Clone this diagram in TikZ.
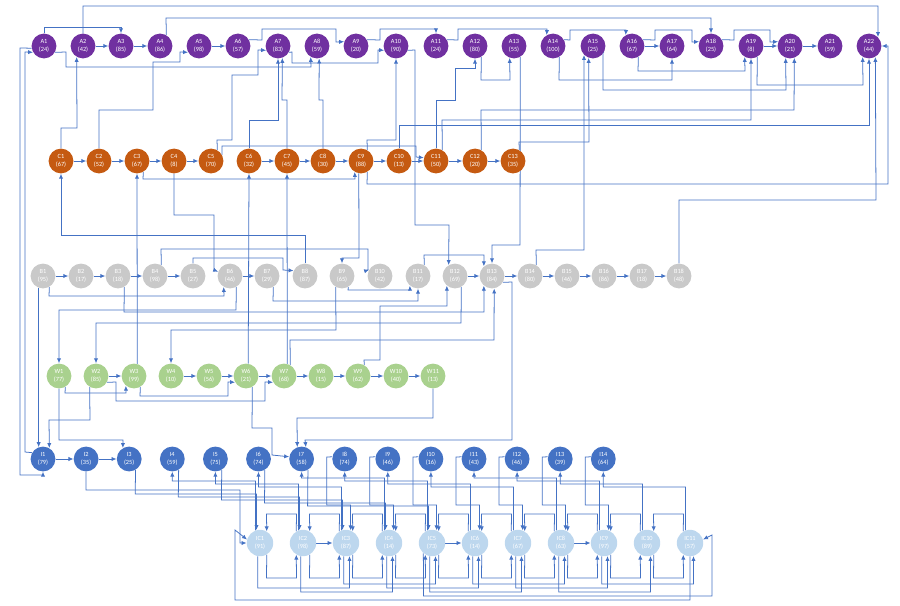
\documentclass[tikz,border=0pt]{standalone}
\usepackage{fontspec}
\setmainfont{Carlito}
\usetikzlibrary{arrows.meta,backgrounds}
\definecolor{apurple}{HTML}{7030A0}
\definecolor{corange}{HTML}{C55A11}
\definecolor{bgray}{HTML}{C9C9C9}
\definecolor{wgreen}{HTML}{A9D18E}
\definecolor{iblue}{HTML}{4472C4}
\definecolor{iclight}{HTML}{BDD7EE}
\definecolor{linkblue}{HTML}{4472C4}
\begin{document}
\begin{tikzpicture}[x=0.025cm,y=-0.025cm,
    task/.style={circle,inner sep=0pt,minimum size=0.62cm,text=white,
      font=\fontsize{4.5}{5.4}\selectfont,align=center},
    anode/.style={task,fill=apurple},
    cnode/.style={task,fill=corange},
    bnode/.style={task,fill=bgray},
    wnode/.style={task,fill=wgreen},
    inode/.style={task,fill=iblue},
    icnode/.style={task,fill=iclight,minimum size=0.66cm},
    link/.style={draw=linkblue,line width=0.55pt,-{Latex[length=3.5pt,width=3pt]}}]
\useasboundingbox (0,0) rectangle (900,605);

% rows of tasks
\foreach \n/\x/\v in {1/44/24,2/83/42,3/121/85,4/160/86,5/199/98,6/238/57,7/278/83,
    8/317/59,9/356/20,10/396/90,11/436/24,12/475/80,13/514/55,14/553/100,15/593/25,
    16/632/67,17/672/64,18/711/25,19/751/8,20/790/21,21/830/59,22/869/44}
  \node[anode] (A\n) at (\x,46) {A\n\\(\v)};
\foreach \n/\x/\v in {1/61/67,2/99/52,3/137/67,4/174/8,5/211/70,6/249/32,7/287/45,
    8/323/30,9/361/88,10/399/13,11/436/50,12/475/20,13/513/35}
  \node[cnode] (C\n) at (\x,161) {C\n\\(\v)};
\foreach \n/\x/\v in {1/43/95,2/81/17,3/118/18,4/155/98,5/193/27,6/230/46,7/267/29,
    8/305/87,9/342/65,10/380/42,11/418/17,12/455/69,13/492/84,14/530/80,15/567/46,
    16/604/86,17/642/18,18/679/48}
  \node[bnode] (B\n) at (\x,276) {B\n\\(\v)};
\foreach \n/\x/\v in {1/59/77,2/96/85,3/134/99,4/171/10,5/209/56,6/246/21,7/284/68,
    8/321/15,9/358/62,10/396/40,11/433/13}
  \node[wnode] (W\n) at (\x,376) {W\n\\(\v)};
\foreach \n/\v in {1/79,2/35,3/25,4/59,5/75,6/74,7/58,8/74,9/46,10/16,11/43,12/46,13/39,14/64}
  \node[inode] (I\n) at ({43+43.1*(\n-1)},459) {I\n\\(\v)};
\foreach \n/\v in {1/91,2/98,3/87,4/14,5/73,6/14,7/67,8/63,9/97,10/89,11/57}
  \node[icnode] (IC\n) at ({260+43*(\n-1)},543) {IC\n\\(\v)};

\begin{scope}[on background layer]
% straight chains
\foreach \a/\b in {A2/A3,A3/A4,A5/A6,A16/A17,A19/A20,A20/A21,
    C1/C2,C2/C3,C3/C4,C4/C5,C6/C7,C7/C8,C8/C9,C9/C10,C10/C11,C11/C12,C12/C13,
    B1/B2,B2/B3,B3/B4,B4/B5,B6/B7,B12/B13,B13/B14,B14/B15,B15/B16,B16/B17,B17/B18,
    W2/W3,W4/W5,W5/W6,W6/W7,W7/W8,W8/W9,W9/W10,W10/W11,I1/I2,I2/I3,
    IC2/IC3,IC5/IC6,IC8/IC9}
  \draw[link] (\a) -- (\b);

% row A
\draw[link] (A1.north) -- (44,27) -- (121,27) -- (A3.north);
\draw[link] (A1.-30) -- (66,52) -- (66,67) -- (311,67) -- (A8.-120);
\draw[link] (A4.60) -- (166,18) -- (711,18) -- (A18.north);
\draw[link] (A6.30) -- (262,40) -- (262,29) -- (336,29) -- (336,42) -- (A9.160);
\draw[link] (A9.30) -- (380,40) -- (380,29) -- (436,29) -- (A11.north);
\draw[link] (A11.30) -- (458,40) -- (458,29) -- (547,29) -- (A14.120);
\draw[link] (A14.30) -- (570,40) -- (570,30) -- (626,30) -- (A16.120);
\draw[link] (A16.30) -- (655,40) -- (655,30) -- (692,30) -- (692,42) -- (A18.160);
\draw[link] (A18.30) -- (734,40) -- (734,30) -- (770,30) -- (770,42) -- (A20.160);
\draw[link] (A16.-60) -- (638,71) -- (745,71) -- (A19.-120);
\draw[link] (A2.north) -- (83,6) -- (878,6) -- (A22.45);
\draw[link] (C9.-60) -- (367,184) -- (888,184) -- (888,46) -- (A22.east);
\draw[link] (A7.-30) -- (292,52) -- (292,63) -- (378,63) -- (378,50) -- (A10.-160);
\draw[link] (A12.-60) -- (481,80) -- (510,80) -- (A13.-110);
\draw[link] (A15.-30) -- (603,52) -- (603,90) -- (786,90) -- (A20.-110);
\draw[link] (A14.-60) -- (559,80) -- (672,80) -- (A17.south);
\draw[link] (A19.-60) -- (757,85) -- (863,85) -- (A22.-120);
\draw[link] (I1.150) -- (25,452) -- (25,52) -- (A1.-150);
\draw[link] (A1.-170) -- (20,48) -- (20,475) -- (43,475) -- (I1.south);

% C up to A
\draw[link] (C1.north) -- (61,128) -- (77,128) -- (A2.-120);
\draw[link] (C2.north) -- (99,110) -- (153,110) -- (153,62) -- (180,62) -- (180,52) -- (A5.-150);
\draw[link] (C5.60) -- (217,140) -- (232,140) -- (232,75) -- (258,75) -- (258,50) -- (A7.-160);
\draw[link] (C6.north) -- (249,120) -- (278,120) -- (A7.south);
\draw[link] (C7.north) -- (287,100) -- (282,100) -- (A7.-70);
\draw[link] (C8.north) -- (323,100) -- (319,100) -- (A8.-80);
\draw[link] (C9.60) -- (367,140) -- (396,140) -- (A10.south);
\draw[link] (C11.north) -- (436,100) -- (455,100) -- (455,68) -- (475,68) -- (A12.south);
\draw[link] (C13.60) -- (519,142) -- (589,142) -- (A15.-110);
\draw[link] (C11.60) -- (442,120) -- (751,120) -- (A19.south);
\draw[link] (C12.60) -- (481,110) -- (794,110) -- (A20.-70);
\draw[link] (C10.north) -- (399,125) -- (869,125) -- (A22.south);
\draw[link] (A10.-20) -- (415,50) -- (415,225) -- (449,225) -- (B12.120);
\draw[link] (A13.-60) -- (520,245) -- (492,245) -- (B13.north);

% B and W up to C and A
\draw[link] (B14.60) -- (536,250) -- (584,250) -- (A15.-135);
\draw[link] (B18.north) -- (679,200) -- (876,200) -- (A22.-60);
\draw[link] (B8.north) -- (305,235) -- (61,235) -- (C1.south);
\draw[link] (W3.75) -- (C3.south);
\draw[link] (W6.80) -- (C6.south);
\draw[link] (W7.75) -- (C7.south);
\draw[link] (C3.-60) -- (143,179) -- (355,179) -- (C9.-120);
\draw[link] (C5.30) -- (222,155) -- (222,146) -- (416,146) -- (416,157) -- (C11.165);
\draw[link] (C4.south) -- (174,215) -- (214,215) -- (214,270) -- (B6.160);

% row B
\draw[link] (B1.-60) -- (49,296) -- (224,296) -- (B6.-120);
\draw[link] (B5.north) -- (193,258) -- (283,258) -- (283,270) -- (B8.155);
\draw[link] (C9.-100) -- (359,258) -- (342,258) -- (B9.north);
\draw[link] (B4.60) -- (161,249) -- (368,249) -- (368,270) -- (B10.150);
\draw[link] (B9.-60) -- (348,290) -- (410,290) -- (B11.-130);
\draw[link] (B7.-60) -- (273,301) -- (418,301) -- (B11.south);
\draw[link] (W9.60) -- (364,360) -- (380,360) -- (380,306) -- (447,306) -- (B12.-130);
\draw[link] (B11.60) -- (424,255) -- (484,255) -- (B13.130);
\draw[link] (B3.-60) -- (124,312) -- (484,312) -- (B13.-130);
\draw[link] (B13.-30) -- (512,282) -- (512,440) -- (305,440) -- (I7.70);
\draw[link] (W7.60) -- (290,340) -- (494,340) -- (B13.-80);

% row W
\draw[link] (W1.-60) -- (65,393) -- (126,393) -- (W3.-130);
\draw[link] (W3.-60) -- (140,396) -- (228,396) -- (228,382) -- (W6.-150);
\draw[link] (W2.-30) -- (116,382) -- (116,401) -- (265,401) -- (265,382) -- (W7.-150);
\draw[link] (B6.-60) -- (236,310) -- (59,310) -- (W1.north);
\draw[link] (B12.-60) -- (461,323) -- (96,323) -- (W2.north);
\draw[link] (B9.-120) -- (336,330) -- (171,330) -- (W4.north);

% down to I
\draw[link] (W11.south) -- (433,418) -- (297,418) -- (I7.110);
\draw[link] (W2.-120) -- (90,420) -- (49,420) -- (I1.60);
\draw[link] (B1.-110) -- (I1.110);
\draw[link] (W1.south) -- (59,440) -- (123,440) -- (I3.120);
\draw[link] (W6.-60) -- (252,428) -- (272,428) -- (272,455) -- (I7.170);
\draw[link] (I2.south) -- (86,490) -- (240,490) -- (240,543) -- (IC1.west);

% I and IC
\foreach \i in {1,...,11}{
  \pgfmathtruncatemacro\k{\i+3}
  \pgfmathsetmacro\xs{260+43*(\i-1)-4.4}
  \pgfmathsetmacro\xt{43+43.1*(\i+2)}
  \pgfmathsetmacro\yb{478+3*mod(\i,4)}
  \draw[link] (IC\i.110) -- (\xs,\yb) -- (\xt,\yb) -- (I\k.south);
}
\foreach \k in {8,...,14}{
  \pgfmathtruncatemacro\m{\k-5}
  \pgfmathsetmacro\xi{43+43.1*(\k-1)}
  \pgfmathsetmacro\xc{260+43*(\m-1)+4.4}
  \draw[link] (I\k.170) -- (\xi-18,457) -- (\xi-18,505) -- (\xc,505) -- (IC\m.70);
}
\foreach \k in {3,...,7}{
  \pgfmathtruncatemacro\m{\k-2}
  \pgfmathsetmacro\xi{43+43.1*(\k-1)+6}
  \pgfmathsetmacro\xc{260+43*(\m-1)-3.4}
  \pgfmathsetmacro\yu{494+3*(\k-3)}
  \draw[link] (I\k.-60) -- (\xi,\yu) -- (\xc,\yu) -- (IC\m.105);
}
\foreach \i in {1,...,10}{
  \pgfmathtruncatemacro\j{\i+1}
  \pgfmathsetmacro\xa{260+43*(\i-1)}
  \pgfmathsetmacro\xb{\xa+43}
  \draw[link] (IC\i.-60) -- (\xa+6.5,578) -- (\xb-6.5,578) -- (IC\j.-120);
  \draw[link] (IC\j.120) -- (\xb-6.5,514) -- (\xa+6.5,514) -- (IC\i.60);
}
\foreach \i in {1,...,9}{
  \pgfmathtruncatemacro\j{\i+2}
  \pgfmathsetmacro\xa{260+43*(\i-1)-2.3}
  \pgfmathsetmacro\xc{260+43*(\i+1)+3.4}
  \pgfmathsetmacro\yy{584+4*mod(\i,3)}
  \draw[link] (IC\i.-100) -- (\xa,\yy) -- (\xc,\yy) -- (IC\j.-75);
}
\draw[link] (IC11.south) -- (690,600) -- (235,600) -- (235,530) -- (IC1.165);
\draw[link] (IC5.-130) -- (423.6,596) -- (712,596) -- (712,535) -- (IC11.15);
\end{scope}
\end{tikzpicture}
\end{document}
